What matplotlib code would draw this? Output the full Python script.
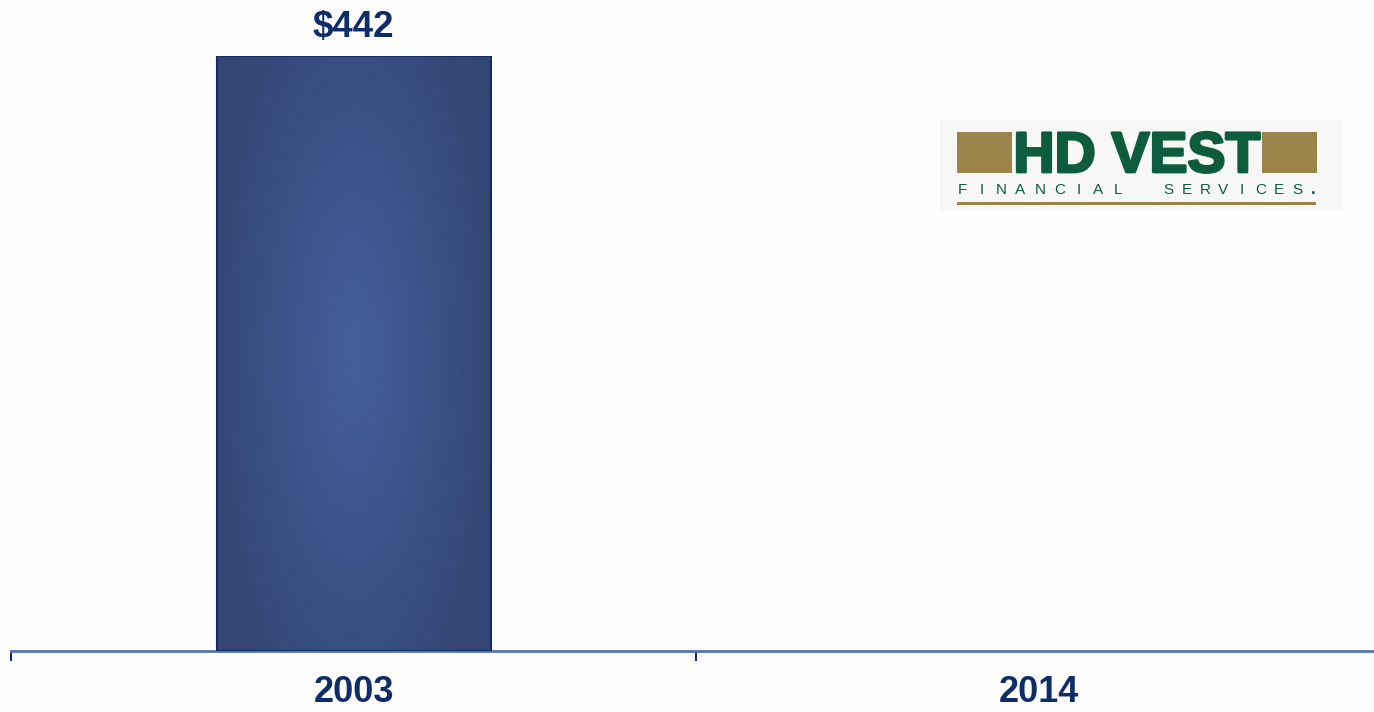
import matplotlib.pyplot as plt
import numpy as np
from matplotlib.patches import Rectangle
import matplotlib.patheffects as pe

# chart data
years = ['2003', '2014']
values = [442, None]
value_labels = ['$442', '']

navy = '#0f2d69'
axis_blue = '#5574ad'
gold = '#9b8449'
green = '#0d5c3e'

W, H = 1374, 712
fig = plt.figure(figsize=(W / 100, H / 100), dpi=100)
fig.patch.set_facecolor('#fefefe')


def px(x, y):
    # pixel coords (top-left origin) -> figure fraction
    return x / W, 1 - y / H


# axes spans 11px .. 1381px horizontally, 56px .. 651px vertically
ax = fig.add_axes([11 / W, (H - 651) / H, 1370 / W, 595 / H])
ax.set_facecolor('none')
ax.set_xlim(-0.5, 1.5)
ax.set_ylim(0, 442)

bw = 0.4
for i, v in enumerate(values):
    if v is None:
        continue
    bar = ax.bar(i, v, width=bw, color='none', edgecolor=navy, linewidth=1.5, zorder=3)[0]
    # radial gradient fill, light centre, darker edges
    nx, ny = 200, 300
    gx = np.linspace(-1, 1, nx)
    gy = np.linspace(-1, 1, ny)
    X, Y = np.meshgrid(gx, gy)
    d = np.clip(np.sqrt(X ** 2 + (Y * 0.75) ** 2) / 1.1, 0, 1)
    c0 = np.array([0x44, 0x5f, 0x9c]) / 255
    c1 = np.array([0x33, 0x46, 0x74]) / 255
    img = c0[None, None, :] * (1 - d[..., None]) + c1[None, None, :] * d[..., None]
    im = ax.imshow(img, extent=[i - bw / 2, i + bw / 2, 0, v], origin='lower',
                   aspect='auto', zorder=2)
    im.set_clip_path(bar)
    ax.annotate(value_labels[i], (i, v), xytext=(0, 8), textcoords='offset points',
                ha='center', va='bottom', fontsize=26.5, fontweight='bold',
                color=navy, family='Liberation Sans')

for s in ['top', 'right', 'left']:
    ax.spines[s].set_visible(False)
ax.spines['bottom'].set_color(axis_blue)
ax.spines['bottom'].set_linewidth(2)
ax.set_yticks([])
ax.set_xticks(range(len(years)))
ax.set_xticklabels(years, fontsize=26, fontweight='bold', color=navy, family='Liberation Sans')
ax.tick_params(axis='x', which='major', length=0, pad=17)
ax.set_xticks([-0.5, 0.5, 1.5], minor=True)
ax.tick_params(axis='x', which='minor', length=7.5, width=1.5, color=navy)

# logo
x0, y0 = px(940, 210)
x1, y1 = px(1342, 120)
fig.patches.append(Rectangle((x0, y0), x1 - x0, y1 - y0, transform=fig.transFigure,
                             facecolor='#f7f7f7', edgecolor='none', zorder=1))
for lx in (957, 1262):
    a, b = px(lx, 173)
    fig.patches.append(Rectangle((a, b), 55 / W, 41 / H, transform=fig.transFigure,
                                 facecolor=gold, edgecolor='none', zorder=2))
a, b = px(957, 205)
fig.patches.append(Rectangle((a, b), 359 / W, 3 / H, transform=fig.transFigure,
                             facecolor=gold, edgecolor='none', zorder=2))
tx, ty = px(1137, 172)
fig.text(tx, ty, 'HD VEST', ha='center', va='baseline', fontsize=41, fontweight='bold',
         color=green, family='Liberation Sans', zorder=3,
         path_effects=[pe.withStroke(linewidth=2, foreground=green)])
letters = 'FINANCIAL'
for k, ch in enumerate(letters):
    a, b = px(962 + k * 19.5, 194)
    fig.text(a, b, ch, ha='center', va='baseline', fontsize=11, color=green,
             family='Liberation Sans', zorder=3)
letters = 'SERVICES'
for k, ch in enumerate(letters):
    a, b = px(1168 + k * 18.5, 194)
    fig.text(a, b, ch, ha='center', va='baseline', fontsize=11, color=green,
             family='Liberation Sans', zorder=3)
a, b = px(1313, 194)
fig.text(a, b, '.', ha='center', va='baseline', fontsize=12, fontweight='bold',
         color=green, family='Liberation Sans', zorder=3)

fig.savefig('out.png', dpi=100, facecolor=fig.get_facecolor())
